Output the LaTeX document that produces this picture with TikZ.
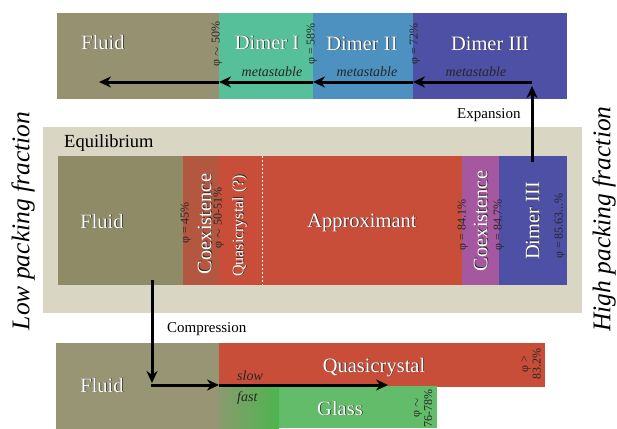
\documentclass[tikz,border=0pt]{standalone}
\usepackage{fontspec}
\setmainfont{Liberation Serif}
\usetikzlibrary{arrows.meta}
\definecolor{fluidT}{RGB}{150,146,113}
\definecolor{fluidM}{RGB}{143,139,102}
\definecolor{fluidB}{RGB}{152,149,117}
\definecolor{dimerI}{RGB}{86,192,154}
\definecolor{dimerII}{RGB}{77,145,192}
\definecolor{dimerIII}{RGB}{78,80,165}
\definecolor{eqbg}{RGB}{217,214,196}
\definecolor{coexR}{RGB}{180,87,64}
\definecolor{redQ}{RGB}{201,78,57}
\definecolor{coexP}{RGB}{165,87,160}
\definecolor{glassG}{RGB}{99,188,105}
\definecolor{glassD}{RGB}{77,181,79}
\definecolor{shadowc}{RGB}{40,40,40}
\newcommand\shd[1]{\leavevmode\rlap{\kern0.7pt\raisebox{-0.7pt}{\textcolor{shadowc}{#1}}}#1}
\begin{document}
\begin{tikzpicture}[x=1pt,y=-1pt,
  blk/.style={inner sep=0pt,outer sep=0pt,anchor=north west},
  lab/.style={text=white,inner sep=0pt,font=\fontsize{20.5}{22}\selectfont},
  phi/.style={rotate=90,inner sep=0pt,text=black!85,align=center,font=\fontsize{12}{12.5}\selectfont},
  meta/.style={inner sep=0pt,font=\fontsize{14}{15}\selectfont\itshape,text=black!85},
  small/.style={inner sep=0pt,font=\fontsize{15}{16}\selectfont},
  side/.style={rotate=90,inner sep=0pt,font=\fontsize{25.5}{27}\selectfont\itshape},
  arr/.style={line width=3pt,-{Stealth[length=12pt,width=11pt]}}]
\useasboundingbox (0,0) rectangle (617,428);
% ---------- top row ----------
\node[blk,fill=fluidT,minimum width=162pt,minimum height=86pt] (tf) at (57,13) {};
\node[blk,fill=dimerI,minimum width=94pt,minimum height=86pt] (td1) at (219,13) {};
\node[blk,fill=dimerII,minimum width=100pt,minimum height=86pt] (td2) at (313,13) {};
\node[blk,fill=dimerIII,minimum width=154pt,minimum height=86pt] (td3) at (413,13) {};
\node[lab,anchor=base] (tfl) at (103,49) {\shd{Fluid}};
\node[lab,anchor=base] (td1l) at (267,49) {\shd{Dimer I}};
\node[lab,anchor=base] (td2l) at (362,50) {\shd{Dimer II}};
\node[lab,anchor=base] (td3l) at (490,50) {\shd{Dimer III}};
\node[phi] (p50) at (217,44) {φ $\sim$ 50\%};
\node[phi] (p58) at (312,44) {φ = 58\%};
\node[phi] (p72) at (415,44) {φ = 72\%};
\node[meta,anchor=base] (m1) at (272,76) {metastable};
\node[meta,anchor=base] (m2) at (367,76) {metastable};
\node[meta,anchor=base] (m3) at (476,76) {metastable};
\coordinate (a0) at (532,82);
\coordinate (a1) at (413,82);
\coordinate (a2) at (313,82);
\coordinate (a3) at (219,82);
\coordinate (a4) at (99,82);
% ---------- equilibrium ----------
\node[blk,fill=eqbg,minimum width=539pt,minimum height=186pt] (eq) at (43,127) {};
\node[anchor=base west,inner sep=0pt,font=\fontsize{18.5}{20}\selectfont] (eql) at (64,147) {Equilibrium};
\node[blk,fill=fluidM,minimum width=125pt,minimum height=129pt] (mf) at (58,156) {};
\node[blk,fill=coexR,minimum width=36pt,minimum height=129pt] (mc1) at (183,156) {};
\node[blk,fill=redQ,minimum width=243pt,minimum height=129pt] (mq) at (219,156) {};
\node[blk,fill=coexP,minimum width=37pt,minimum height=129pt] (mc2) at (462,156) {};
\node[blk,fill=dimerIII,minimum width=68pt,minimum height=129pt] (md3) at (499,156) {};
\draw[white,line width=1pt,dash pattern=on 2pt off 2pt] (262,156) -- (262,285);
\node[lab,anchor=base] (mfl) at (102,228) {\shd{Fluid}};
\node[lab,rotate=90] (mc1l) at (205,224) {\shd{Coexistence}};
\node[lab,rotate=90,font=\fontsize{16}{17}\selectfont] (mql) at (240,226) {\shd{Quasicrystal (?)}};
\node[lab,anchor=base] (mal) at (362,227) {\shd{Approximant}};
\node[lab,rotate=90] (mc2l) at (481,221) {\shd{Coexistence}};
\node[lab,rotate=90] (md3l) at (533,221) {\shd{Dimer III}};
\node[phi] (p45) at (186,223) {φ = 45\%};
\node[phi] (p5051) at (219,218) {φ $\sim$ 50-51\%};
\node[phi] (p841) at (463,225) {φ = 84.1\%};
\node[phi] (p847) at (499,225) {φ = 84.7\%};
\node[phi] (p8563) at (560,226) {φ = 85.63...\%};
\coordinate (e0) at (532,162);
\coordinate (e1) at (532,86);
\node[small,anchor=base west] (expl) at (457,118) {Expansion};
% ---------- bottom row ----------
\node[blk,fill=fluidB,minimum width=163pt,minimum height=86pt] (bf) at (56,343) {};
\node[blk,fill=redQ,minimum width=326pt,minimum height=44pt] (bq) at (219,343) {};
\node[blk,fill=glassG,minimum width=218pt,minimum height=42pt] (bg) at (219,386) {};
\shade[left color=fluidB!80!glassD,right color=glassD] (219,386) rectangle (279,428);
\node[lab,anchor=base] (bfl) at (102,392) {\shd{Fluid}};
\node[lab,anchor=base] (bql) at (374,372) {\shd{Quasicrystal}};
\node[lab,anchor=base] (bgl) at (340,415) {\shd{Glass}};
\node[meta,anchor=base west] (slow) at (237,380) {slow};
\node[meta,anchor=base west] (fast) at (237,401) {fast};
\node[phi] (p832) at (531,364) {φ >\\83.2\%};
\node[phi] (p7678) at (423,408) {φ $\sim$\\76-78\%};
\node[small,anchor=base west] (compl) at (167,332) {Compression};
\coordinate (c0) at (152,280);
\coordinate (c1) at (152,383);
\coordinate (c2) at (151,385);
\coordinate (c3) at (219,385);
\coordinate (c4) at (388,385);
% ---------- arrows ----------
\draw[arr] (a0) -- (a1);
\draw[arr] (a1) -- (a2);
\draw[arr] (a2) -- (a3);
\draw[arr] (a3) -- (a4);
\draw[arr] (e0) -- (e1);
\draw[arr] (c0) -- (c1);
\draw[arr] (c2) -- (c3);
\draw[arr] (c3) -- (c4);
% ---------- side labels ----------
\node[side] (low) at (23,221) {Low packing fraction};
\node[side] (high) at (604,219) {High packing fraction};
\end{tikzpicture}
\end{document}
